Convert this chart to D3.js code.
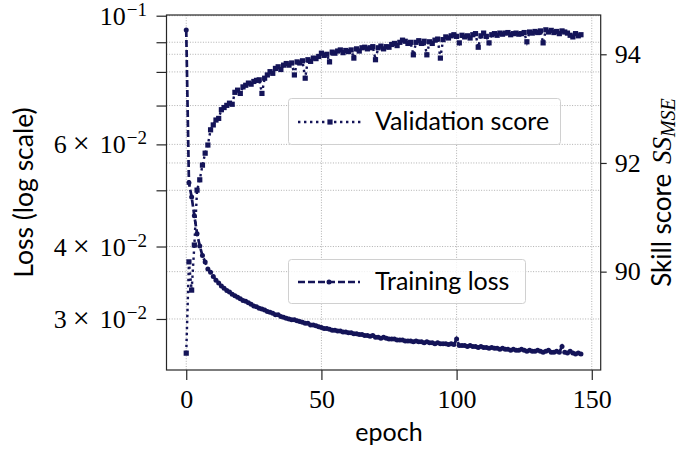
<!DOCTYPE html>
<html>
<head>
<meta charset="utf-8">
<script src="https://cdn.jsdelivr.net/npm/d3@7"></script>
<style>
  body { margin: 0; background: #fff; }
  .tick text { font-family: "Liberation Serif", serif; font-size: 26px; fill: #000; }
  .tick line { stroke: #262626; stroke-width: 1.2; }
  .lbl { font-family: "Lato", sans-serif; font-size: 25px; fill: #000; }
</style>
</head>
<body>
<div id="chart"></div>
<script>
// training loss per epoch (index = epoch)
var trainLoss = [
  0.0945, 0.0515, 0.0487, 0.0452, 0.0421, 0.0401, 0.0386, 0.0376, 0.0366, 0.0361,
  0.0355, 0.0350, 0.0346, 0.0342, 0.0339, 0.0336, 0.0334, 0.0331, 0.0329, 0.0327,
  0.0325, 0.0323, 0.0322, 0.0320, 0.0318, 0.0316, 0.0315, 0.0313, 0.0312, 0.0311,
  0.0309, 0.0308, 0.0307, 0.0305, 0.0305, 0.0303, 0.0302, 0.0301, 0.0300, 0.0299,
  0.0299, 0.0298, 0.0297, 0.0296, 0.0295, 0.0295, 0.0293, 0.0293, 0.0292, 0.0291,
  0.0290, 0.0289, 0.0289, 0.0288, 0.0287, 0.0287, 0.0286, 0.0286, 0.0285, 0.0285,
  0.0284, 0.0284, 0.0283, 0.0283, 0.0282, 0.0282, 0.0281, 0.0281, 0.0280, 0.0281,
  0.0279, 0.0279, 0.0278, 0.0279, 0.0278, 0.0277, 0.0277, 0.0277, 0.0276, 0.0276,
  0.0276, 0.0275, 0.0275, 0.0275, 0.0274, 0.0275, 0.0274, 0.0274, 0.0273, 0.0274,
  0.0273, 0.0273, 0.0272, 0.0273, 0.0272, 0.0272, 0.0272, 0.0271, 0.0272, 0.0271,
  0.0277, 0.0270, 0.0270, 0.0270, 0.0269, 0.0270, 0.0269, 0.0269, 0.0268, 0.0269,
  0.0268, 0.0268, 0.0267, 0.0268, 0.0267, 0.0267, 0.0266, 0.0267, 0.0266, 0.0266,
  0.0265, 0.0266, 0.0265, 0.0265, 0.0266, 0.0265, 0.0264, 0.0265, 0.0264, 0.0264,
  0.0265, 0.0264, 0.0263, 0.0264, 0.0265, 0.0263, 0.0263, 0.0264, 0.0263, 0.0269,
  0.0263, 0.0262, 0.0264, 0.0262, 0.0261, 0.0262, 0.0261
]

// validation skill score per epoch
var valScore = [
  88.50, 90.18, 89.66, 90.49, 91.50, 91.69, 91.96, 92.18, 92.33, 92.61,
  92.70, 92.79, 92.82, 92.98, 93.02, 93.06, 93.10, 93.08, 93.30, 93.34,
  93.28, 93.40, 93.43, 93.47, 93.45, 93.50, 93.52, 93.53, 93.28, 93.56,
  93.62, 93.68, 93.65, 93.74, 93.77, 93.72, 93.80, 93.83, 93.80, 93.84,
  93.62, 93.86, 93.84, 93.88, 93.56, 93.90, 93.87, 93.93, 93.92, 93.96,
  94.02, 93.98, 94.00, 93.86, 94.04, 94.02, 94.06, 94.08, 94.03, 94.07,
  94.05, 94.08, 93.93, 94.10, 94.06, 94.12, 94.13, 94.10, 94.12, 94.14,
  93.90, 94.12, 94.15, 94.10, 94.14, 94.13, 94.18, 94.20, 94.16, 94.22,
  94.26, 94.24, 94.20, 94.22, 93.99, 94.22, 94.25, 94.20, 94.24, 93.99,
  94.23, 94.20, 94.26, 94.28, 93.93, 94.27, 94.32, 94.30, 94.34, 94.36,
  94.33, 94.21, 94.35, 94.32, 94.34, 94.30, 94.36, 94.38, 94.13, 94.34,
  94.39, 94.33, 94.21, 94.36, 94.38, 94.35, 94.39, 94.37, 94.39, 94.40,
  94.36, 94.38, 94.39, 94.37, 94.38, 94.40, 94.23, 94.41, 94.39, 94.42,
  94.40, 94.43, 94.21, 94.45, 94.41, 94.44, 94.40, 94.42, 94.38, 94.43,
  94.41, 94.39, 94.35, 94.32, 94.38, 94.34, 94.36
]

var xTicks = [0, 50, 100, 150]
var lossTicks = [0.03, 0.04, 0.06, 0.1]
var lossTickMant = ["3", "4", "6", null]
var lossTickExp = ["\u22122", "\u22122", "\u22122", "\u22121"]
var lossMinor = [0.05, 0.07, 0.08, 0.09]
var scoreTicks = [90, 92, 94]

var color = "#141458"

var width = 678, height = 450
var mLeft = 166.5, mTop = 15, mRight = 600.7, mBottom = 370

var svg = d3.select("#chart").append("svg")
  .attr("width", width)
  .attr("height", height)

var x = d3.scaleLinear().domain([-7.3, 153.3]).range([mLeft, mRight])
var yLoss = d3.scaleLog().domain([0.0245, 0.10028]).range([mBottom, mTop])
var yScore = d3.scaleLinear().domain([88.19, 94.723]).range([mBottom, mTop])

// grid
var grid = svg.append("g")
  .attr("stroke", "#b0b0b0")
  .attr("stroke-width", 1)
  .attr("stroke-dasharray", "1,1.6")

grid.selectAll(".gx").data(xTicks).enter().append("line")
  .attr("x1", function(d) { return x(d) }).attr("x2", function(d) { return x(d) })
  .attr("y1", mTop).attr("y2", mBottom)

grid.selectAll(".gl").data(lossTicks.concat(lossMinor)).enter().append("line")
  .attr("x1", mLeft).attr("x2", mRight)
  .attr("y1", function(d) { return yLoss(d) }).attr("y2", function(d) { return yLoss(d) })

grid.selectAll(".gs").data(scoreTicks).enter().append("line")
  .attr("x1", mLeft).attr("x2", mRight)
  .attr("y1", function(d) { return yScore(d) }).attr("y2", function(d) { return yScore(d) })

// training loss
var lossLine = d3.line()
  .x(function(d, i) { return x(i) })
  .y(function(d) { return yLoss(d) })

svg.append("path")
  .datum(trainLoss)
  .attr("d", lossLine)
  .attr("fill", "none")
  .attr("stroke", color)
  .attr("stroke-width", 2.7)
  .attr("stroke-dasharray", "7,3")

svg.append("g").selectAll("circle")
  .data(trainLoss)
  .enter()
  .append("circle")
  .attr("cx", function(d, i) { return x(i) })
  .attr("cy", function(d) { return yLoss(d) })
  .attr("r", 2.5)
  .attr("fill", color)

// legend boxes
function legendBox(x0, y0, w, h) {
  svg.append("rect")
    .attr("x", x0).attr("y", y0).attr("width", w).attr("height", h)
    .attr("rx", 3)
    .attr("fill", "#fff").attr("fill-opacity", 0.8)
    .attr("stroke", "#d0d0d0").attr("stroke-width", 1)
}

legendBox(288.5, 259.5, 237, 44)
svg.append("line")
  .attr("x1", 298).attr("x2", 360).attr("y1", 282).attr("y2", 282)
  .attr("stroke", color).attr("stroke-width", 2.7).attr("stroke-dasharray", "7,3")
svg.append("circle").attr("cx", 329).attr("cy", 282).attr("r", 2.5).attr("fill", color)
svg.append("text").attr("class", "lbl")
  .attr("x", 375).attr("y", 290)
  .text("Training loss")

// validation score
var scoreLine = d3.line()
  .x(function(d, i) { return x(i) })
  .y(function(d) { return yScore(d) })

svg.append("path")
  .datum(valScore)
  .attr("d", scoreLine)
  .attr("fill", "none")
  .attr("stroke", color)
  .attr("stroke-width", 2.4)
  .attr("stroke-dasharray", "2.4,3.6")

svg.append("g").selectAll("rect")
  .data(valScore)
  .enter()
  .append("rect")
  .attr("x", function(d, i) { return x(i) - 2.6 })
  .attr("y", function(d) { return yScore(d) - 2.6 })
  .attr("width", 5.2)
  .attr("height", 5.2)
  .attr("fill", color)

legendBox(288.5, 98.5, 272, 46)
svg.append("line")
  .attr("x1", 298).attr("x2", 362).attr("y1", 122).attr("y2", 122)
  .attr("stroke", color).attr("stroke-width", 2.4).attr("stroke-dasharray", "2.4,3.6")
svg.append("rect").attr("x", 327.4).attr("y", 119.4).attr("width", 5.2).attr("height", 5.2).attr("fill", color)
svg.append("text").attr("class", "lbl")
  .attr("x", 375).attr("y", 130)
  .text("Validation score")

// axes
var xAxis = svg.append("g")
  .attr("transform", "translate(0," + mBottom + ")")
  .call(d3.axisBottom(x).tickValues(xTicks).tickSize(10).tickSizeOuter(0).tickPadding(10).tickFormat(d3.format("d")))
xAxis.select(".domain").remove()

var yAxisL = svg.append("g")
  .attr("transform", "translate(" + mLeft + ",0)")
  .call(d3.axisLeft(yLoss).tickValues(lossTicks.concat(lossMinor)).tickSize(10).tickSizeOuter(0).tickFormat(""))
yAxisL.select(".domain").remove()

var yAxisR = svg.append("g")
  .attr("transform", "translate(" + mRight + ",0)")
  .call(d3.axisRight(yScore).tickValues(scoreTicks).tickSize(6).tickSizeOuter(0).tickPadding(8).tickFormat(d3.format("d")))
yAxisR.select(".domain").remove()

// log tick labels like 6 x 10^-2
var lossLab = svg.append("g")
  .selectAll("text")
  .data(lossTicks)
  .enter()
  .append("text")
  .attr("x", 147)
  .attr("y", function(d) { return yLoss(d) + 9 })
  .attr("text-anchor", "end")
  .style("font-family", "'Liberation Serif', serif")
  .style("font-size", "26px")

lossLab.each(function(d, i) {
  var t = d3.select(this)
  if (lossTickMant[i]) {
    t.append("tspan").text(lossTickMant[i])
    t.append("tspan").attr("dx", 6).style("font-size", "30px").text("\u00d7")
    t.append("tspan").attr("dx", 10).text("10")
  } else {
    t.append("tspan").text("10")
  }
  t.append("tspan")
    .attr("dy", -9)
    .attr("dx", 1)
    .style("font-size", "19px")
    .text(lossTickExp[i])
})

// frame
svg.append("rect")
  .attr("x", mLeft).attr("y", mTop)
  .attr("width", mRight - mLeft).attr("height", mBottom - mTop)
  .attr("fill", "none")
  .attr("stroke", "#262626")
  .attr("stroke-width", 1.2)

// axis titles
svg.append("text").attr("class", "lbl")
  .attr("x", (x(0) + x(150)) / 2).attr("y", 441)
  .attr("text-anchor", "middle")
  .text("epoch")

svg.append("text").attr("class", "lbl")
  .attr("transform", "translate(33," + (mTop + mBottom) / 2 + ") rotate(-90)")
  .attr("text-anchor", "middle")
  .style("font-size", "26.5px")
  .text("Loss (log scale)")

var rlab = svg.append("text").attr("class", "lbl")
  .attr("transform", "translate(671," + (mTop + mBottom) / 2 + ") rotate(-90)")
  .attr("text-anchor", "middle")
  .style("font-size", "26px")
rlab.append("tspan").text("Skill score ")
rlab.append("tspan")
  .attr("dx", 3)
  .style("font-family", "'Liberation Serif', serif")
  .style("font-style", "italic")
  .style("font-size", "27px")
  .text("SS")
rlab.append("tspan")
  .attr("dy", 4)
  .style("font-family", "'Liberation Serif', serif")
  .style("font-style", "italic")
  .style("font-size", "20px")
  .text("MSE")
</script>
</body>
</html>
